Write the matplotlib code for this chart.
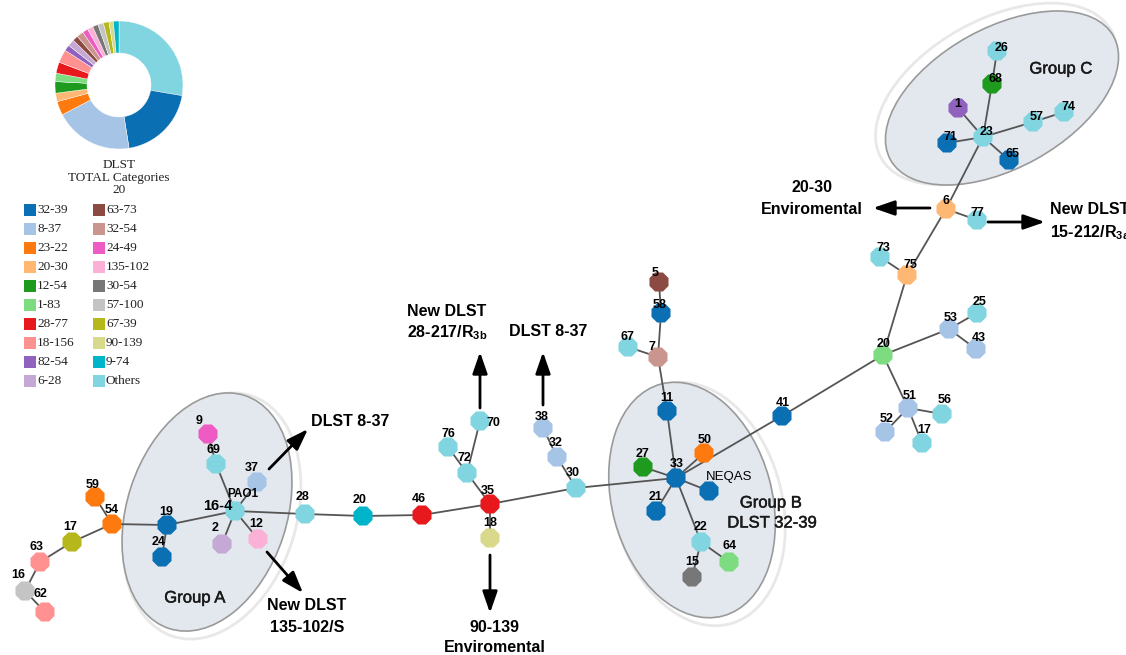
import matplotlib.pyplot as plt
import matplotlib.patheffects as pe
from matplotlib.patches import Ellipse, Rectangle

plt.rcParams['font.family'] = ['Liberation Sans', 'DejaVu Sans']
plt.rcParams['mathtext.fontset'] = 'custom'
plt.rcParams['mathtext.rm'] = 'Liberation Sans'
plt.rcParams['mathtext.bf'] = 'Liberation Sans:bold'

# DLST categories (legend order), colours and share of isolates in %
categories = ['32-39', '8-37', '23-22', '20-30', '12-54', '1-83', '28-77', '18-156', '82-54', '6-28',
              '63-73', '32-54', '24-49', '135-102', '30-54', '57-100', '67-39', '90-139', '9-74', 'Others']
shares = [19.7, 19.7, 3.5, 2.1, 2.9, 2.1, 2.8, 3.3, 1.5, 1.7,
          1.4, 1.7, 1.4, 1.4, 1.4, 1.4, 1.4, 1.1, 1.4, 27.5]
colors = ['#0a6fb3', '#a6c4e6', '#ff7a0e', '#ffb873', '#1e9a1e', '#7ddc80', '#e8191c', '#ff9190', '#9061bd', '#c3a9d4',
          '#8b4a42', '#c9958e', '#ee5bc3', '#fbb0d6', '#777777', '#c4c4c4', '#b5b71a', '#d9d98c', '#00b5c9', '#80d5e0']
cat_color = dict(zip(categories, colors))

# STs of the minimum spanning tree: id, label, DLST
node_ids = ['pao1', '9', '69', '37', '12', '2', '19', '24', '28', '20a', '54', '59', '17a', '63', '16', '62',
            '46', '35', '18', '72', '76', '70', '30', '32', '38',
            '33', '11', '7', '58', '5', '67', '27', '50', 'neqas', '21', '22', '64', '15',
            '41', '20b', '75', '73', '6', '77', '23', '71', '1', '68', '26', '57', '74', '65',
            '53', '25', '43', '51', '56', '52', '17b']
node_labels = ['16-4', '9', '69', '37', '12', '2', '19', '24', '28', '20', '54', '59', '17', '63', '16', '62',
               '46', '35', '18', '72', '76', '70', '30', '32', '38',
               '33', '11', '7', '58', '5', '67', '27', '50', 'NEQAS', '21', '22', '64', '15',
               '41', '20', '75', '73', '6', '77', '23', '71', '1', '68', '26', '57', '74', '65',
               '53', '25', '43', '51', '56', '52', '17']
node_dlst = ['Others', '24-49', 'Others', '8-37', '135-102', '6-28', '32-39', '32-39', 'Others', '9-74',
             '23-22', '23-22', '67-39', '18-156', '57-100', '18-156',
             '28-77', '28-77', '90-139', 'Others', 'Others', 'Others', 'Others', '8-37', '8-37',
             '32-39', '32-39', '32-54', '32-39', '63-73', 'Others', '12-54', '23-22', '32-39', '32-39',
             'Others', '1-83', '30-54',
             '32-39', '1-83', '20-30', 'Others', '20-30', 'Others', 'Others', '32-39', '82-54', '12-54',
             'Others', 'Others', 'Others', '32-39',
             '8-37', 'Others', '8-37', '8-37', 'Others', '8-37', 'Others']
edges = [('pao1', '69'), ('69', '9'), ('pao1', '37'), ('pao1', '12'), ('pao1', '2'), ('pao1', '19'),
         ('pao1', '28'), ('19', '24'), ('19', '54'), ('54', '59'), ('54', '17a'), ('17a', '63'),
         ('63', '16'), ('16', '62'),
         ('28', '20a'), ('20a', '46'), ('46', '35'), ('35', '72'), ('72', '76'), ('72', '70'),
         ('35', '18'), ('35', '30'), ('30', '32'), ('32', '38'), ('30', '33'),
         ('33', '11'), ('11', '7'), ('7', '58'), ('58', '5'), ('7', '67'), ('33', '27'), ('33', '50'),
         ('33', 'neqas'), ('33', '21'), ('33', '22'), ('22', '64'), ('22', '15'), ('33', '41'),
         ('41', '20b'), ('20b', '75'), ('75', '73'), ('75', '6'), ('6', '77'), ('6', '23'),
         ('23', '71'), ('23', '1'), ('23', '68'), ('68', '26'), ('23', '57'), ('57', '74'), ('23', '65'),
         ('20b', '53'), ('53', '25'), ('53', '43'), ('20b', '51'), ('51', '56'), ('51', '52'), ('51', '17b')]

# layout in pixels
pos = {
    'pao1': (235, 511), '9': (208, 434), '69': (216, 464), '37': (257, 482), '12': (258, 539),
    '2': (222, 544), '19': (167, 525), '24': (162, 557), '28': (305, 514), '20a': (363, 516),
    '54': (112, 524), '59': (95, 497), '17a': (72, 542), '63': (40, 562), '16': (25, 591), '62': (45, 612),
    '46': (422, 515), '35': (490, 504), '18': (490, 538), '72': (467, 473), '76': (448, 447),
    '70': (480, 421), '30': (576, 488), '32': (557, 457), '38': (543, 428),
    '33': (676, 478), '11': (667, 411), '7': (658, 357), '58': (661, 313), '5': (659, 282),
    '67': (628, 347), '27': (643, 467), '50': (704, 453), 'neqas': (709, 491), '21': (656, 511),
    '22': (701, 542), '64': (729, 562), '15': (692, 577),
    '41': (782, 416), '20b': (883, 355), '75': (907, 275), '73': (880, 257), '6': (946, 209),
    '77': (977, 220), '23': (983, 137), '71': (947, 143), '1': (958, 108), '68': (992, 84),
    '26': (997, 51), '57': (1033, 122), '74': (1064, 112), '65': (1009, 160),
    '53': (949, 329), '25': (977, 313), '43': (976, 349), '51': (908, 408), '56': (942, 414),
    '52': (885, 432), '17b': (922, 443),
}
lab = {
    'pao1': (218, 506), '9': (199, 421), '69': (213, 450), '37': (252, 468), '12': (256, 524),
    '2': (215, 528), '19': (166, 512), '24': (159, 542), '28': (302, 497), '20a': (360, 500),
    '54': (112, 510), '59': (93, 485), '17a': (70, 527), '63': (37, 547), '16': (18, 575), '62': (40, 594),
    '46': (419, 499), '35': (488, 491), '18': (490, 523), '72': (464, 458), '76': (448, 434),
    '70': (493, 423), '30': (573, 473), '32': (556, 443), '38': (542, 417),
    '33': (677, 464), '11': (667, 398), '7': (652, 347), '58': (660, 305), '5': (655, 273),
    '67': (627, 337), '27': (642, 454), '50': (705, 440), 'neqas': (729, 477), '21': (656, 497),
    '22': (701, 527), '64': (730, 546), '15': (692, 562),
    '41': (783, 403), '20b': (884, 344), '75': (910, 265), '73': (883, 248), '6': (946, 201),
    '77': (977, 213), '23': (987, 132), '71': (950, 137), '1': (958, 104), '68': (995, 79),
    '26': (1002, 48), '57': (1037, 117), '74': (1069, 107), '65': (1013, 154),
    '53': (951, 318), '25': (980, 302), '43': (979, 338), '51': (910, 396), '56': (945, 400),
    '52': (887, 419), '17b': (924, 430),
}

W, H = 1126, 655
fig = plt.figure(figsize=(W / 100, H / 100), dpi=100)
ax = fig.add_axes([0, 0, 1, 1])
ax.set_xlim(0, W)
ax.set_ylim(H, 0)
ax.axis('off')

# group ellipses with a faint outer halo
groups = [((207, 512), 160, 245, 18, (5, 4)),
          ((692, 500), 160, 240, -15, (6, 4)),
          ((1002, 98), 255, 140, -29, (-6, -4))]
for (cx, cy), w, h, ang, (dx, dy) in groups:
    ax.add_patch(Ellipse((cx + dx, cy + dy), w + 8, h + 8, angle=ang, fill=False,
                         ec='#e8e8e8', lw=2, zorder=0))
    ax.add_patch(Ellipse((cx, cy), w, h, angle=ang, fc='#e3e8ef', ec='#9a9a9a', lw=1.2, zorder=1))

heavy = [pe.withStroke(linewidth=0.35, foreground='#1a1a1a')]
grp = dict(fontsize=12, ha='center', va='center', color='#1a1a1a', path_effects=heavy)
ax.text(195, 598, 'Group A', **grp)
ax.text(771, 503, 'Group B', **grp)
ax.text(772, 523, 'DLST 32-39', **grp)
ax.text(1061, 69, 'Group C', **grp)

for a, b in edges:
    ax.plot([pos[a][0], pos[b][0]], [pos[a][1], pos[b][1]], color='#555555', lw=1.3, zorder=2)

xs = [pos[n][0] for n in node_ids]
ys = [pos[n][1] for n in node_ids]
ax.scatter(xs, ys, s=220, marker='8', c=[cat_color[d] for d in node_dlst], linewidths=0, zorder=3)

for n, t in zip(node_ids, node_labels):
    if n == 'neqas':
        ax.text(*lab[n], t, fontsize=9.5, ha='center', va='center', zorder=4)
    elif n == 'pao1':
        ax.text(*lab[n], t, fontsize=10.5, fontweight='bold', ha='center', va='center', zorder=4)
    else:
        ax.text(*lab[n], t, fontsize=9, fontweight='bold', ha='center', va='center', zorder=4)
ax.text(243, 494, 'PAO1', fontsize=8.5, fontweight='bold', ha='center', va='center', zorder=4)

# arrows to the new / environmental DLSTs
arrows = [((269, 469), (308, 429)), ((267, 552), (303, 593)), ((480, 408), (480, 352)),
          ((543, 405), (543, 352)), ((490, 555), (490, 613)), ((930, 208), (873, 208)),
          ((988, 222), (1045, 222))]
for start, tip in arrows:
    ax.annotate('', xy=tip, xytext=start,
                arrowprops=dict(arrowstyle='-|>,head_length=1.3,head_width=0.45', color='black',
                                lw=2, mutation_scale=10, shrinkA=0, shrinkB=0), zorder=5)

bold = dict(fontsize=11.5, fontweight='bold', va='center')
ax.text(350, 421, 'DLST 8-37', ha='center', **bold)
ax.text(307, 605, 'New DLST', ha='center', **bold)
ax.text(307, 627, '135-102/S', ha='center', **bold)
ax.text(447, 312, 'New DLST', ha='center', **bold)
ax.text(447, 333, r'28-217/R$_{\mathbf{3b}}$', ha='center', **bold)
ax.text(548, 332, 'DLST 8-37', ha='center', **bold)
ax.text(495, 628, '90-139', ha='center', **bold)
ax.text(495, 648, 'Enviromental', ha='center', **bold)
ax.text(812, 188, '20-30', ha='center', **bold)
ax.text(812, 210, 'Enviromental', ha='center', **bold)
ax.text(1050, 210, 'New DLST', ha='left', **bold)
ax.text(1050, 233, r'15-212/R$_{\mathbf{3a}}$', ha='left', **bold)

# DLST donut
pax = fig.add_axes([(119 - 64) / W, (H - 85 - 64) / H, 128 / W, 128 / H])
pie_order = [categories[-1]] + categories[:-1]
pie_vals = [shares[-1]] + shares[:-1]
pax.pie(pie_vals, colors=[cat_color[c] for c in pie_order], startangle=90, counterclock=False,
        radius=1, wedgeprops=dict(width=0.5, edgecolor='white', linewidth=0.3))
pax.set_xlim(-1, 1)
pax.set_ylim(-1, 1)
pax.set_aspect('equal')
pax.axis('off')

serif = dict(fontfamily='Liberation Serif', fontsize=9.5, color='#222222')
ax.text(119, 165, 'DLST', ha='center', va='center', **serif)
ax.text(119, 178, 'TOTAL Categories', ha='center', va='center', **serif)
ax.text(119, 190, '20', ha='center', va='center', **serif)

for i, c in enumerate(categories):
    col, row = divmod(i, 10)
    x0 = 24 + col * 69
    y0 = 210 + row * 19
    ax.add_patch(Rectangle((x0, y0 - 6), 12, 12, fc=cat_color[c], ec='none'))
    ax.text(x0 + 13, y0, c, ha='left', va='center', **serif)

fig.savefig('out.png', dpi=100)
